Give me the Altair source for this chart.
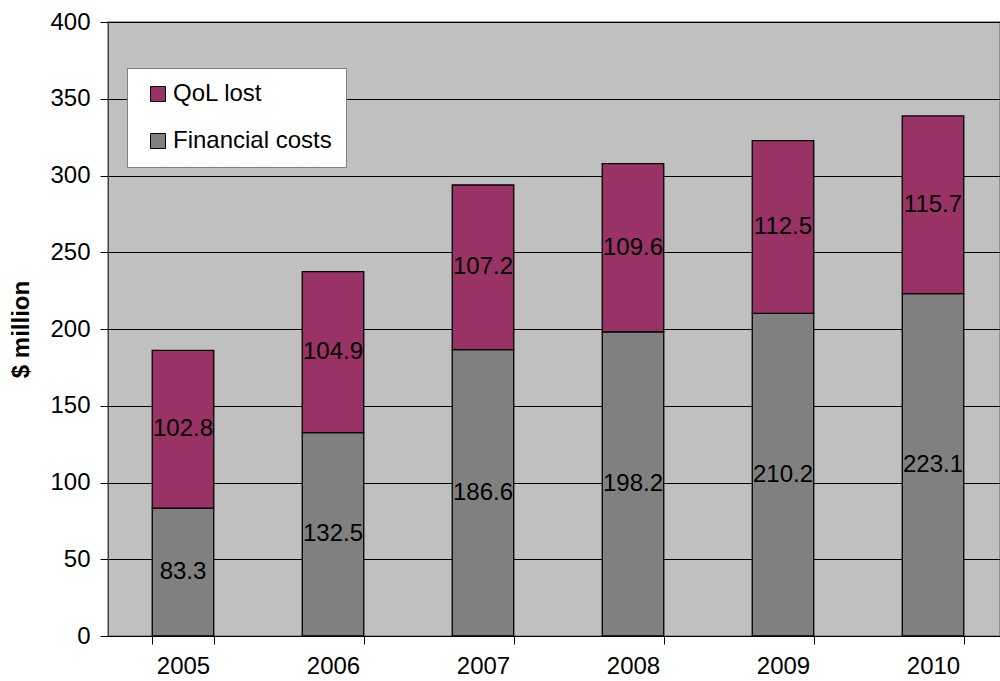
import altair as alt
import pandas as pd

years = ["2005", "2006", "2007", "2008", "2009", "2010"]
financial = [83.3, 132.5, 186.6, 198.2, 210.2, 223.1]
qol = [102.8, 104.9, 107.2, 109.6, 112.5, 115.7]
series = ["QoL lost", "Financial costs"]
colors = ["#993366", "#808080"]

rows = []
for y, f, q in zip(years, financial, qol):
    rows.append({"year": y, "series": "Financial costs", "value": f, "ord": 0})
    rows.append({"year": y, "series": "QoL lost", "value": q, "ord": 1})
df = pd.DataFrame(rows)

FONT = "Liberation Sans"
FS = 24

base = alt.Chart(df).transform_stack(
    stack="value", groupby=["year"], sort=[alt.SortField("ord", order="ascending")],
    as_=["v0", "v1"]
).transform_calculate(mid="(datum.v0 + datum.v1) / 2")

xscale = alt.Scale(paddingInner=0.59, paddingOuter=0.295, range=[0, 900])

x = alt.X("year:N", title=None, scale=xscale,
          axis=alt.Axis(labelAngle=0, tickBand="extent", tickSize=8, tickColor="#000000",
                        domainColor="#000000", labelFontSize=FS, labelPadding=10,
                        labelColor="#000000", labelFont=FONT, grid=False))

bars = base.mark_bar(stroke="#000000", strokeWidth=1.3).encode(
    x=x,
    y=alt.Y("v0:Q", scale=alt.Scale(domain=[0, 400]), title="$ million",
            axis=alt.Axis(values=list(range(0, 401, 50)), tickSize=8, tickColor="#000000",
                          domainColor="#404040", labelFontSize=FS, labelPadding=10,
                          labelColor="#000000", labelFont=FONT, titleFont=FONT,
                          titleFontSize=FS, titleFontWeight="bold", titleColor="#000000",
                          titlePadding=16, grid=True, gridColor="#000000", gridWidth=1)),
    y2="v1:Q",
    fill=alt.Fill("series:N", scale=alt.Scale(domain=series, range=colors),
                  legend=alt.Legend(title=None, orient="none", legendX=19, legendY=46,
                                    fillColor="#FFFFFF", strokeColor="#808080", padding=14,
                                    rowPadding=23, symbolType="square", symbolSize=225,
                                    symbolOffset=5,
                                    symbolStrokeColor="#000000", symbolStrokeWidth=1,
                                    labelFontSize=FS, labelFont=FONT, labelColor="#000000",
                                    labelOffset=3, labelLimit=300)),
)

labels = base.mark_text(fontSize=FS, font=FONT, color="#000000").encode(
    x=alt.X("year:N", scale=xscale),
    y=alt.Y("mid:Q"),
    text=alt.Text("value:Q", format=".1f"),
)

chart = alt.layer(bars, labels).properties(
    width=892, height=614,
    background="#FFFFFF",
    autosize=alt.AutoSizeParams(type="none"),
    padding={"left": 108, "top": 22, "right": 0, "bottom": 45},
).configure_view(fill="#C0C0C0", stroke="#808080", strokeWidth=1.5)

chart.save("out.html", embed_options={"renderer": "svg", "actions": False})
